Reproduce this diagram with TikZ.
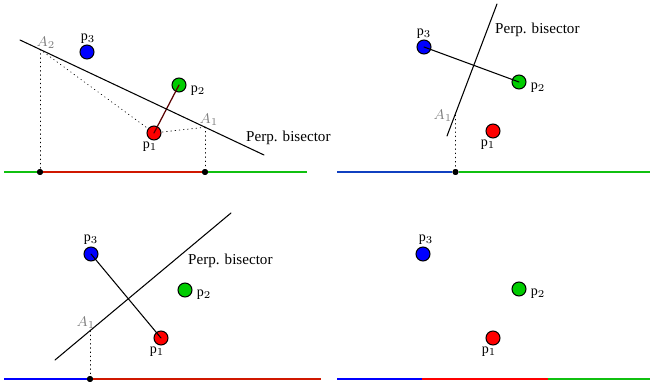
\documentclass[tikz,border=0pt]{standalone}
\usepackage{amsmath}
\usepackage{fontspec}
\setmainfont{Liberation Serif}
\usetikzlibrary{calc}
\definecolor{siteRed}{HTML}{FF0000}
\definecolor{siteGreen}{HTML}{00CC00}
\definecolor{siteBlue}{HTML}{0000FF}
\definecolor{lineRed}{HTML}{D01800}
\definecolor{lineGreen}{HTML}{10C010}
\definecolor{lineBlue}{HTML}{1040C0}

\begin{document}
\begin{tikzpicture}[
  x=0.02cm, y=-0.02cm,
  line cap=round,
  every node/.style={font=\footnotesize},
  site/.style={circle, draw=black, line width=0.6pt, minimum size=0.28cm, inner sep=0pt},
  brk/.style={circle, fill=black, inner sep=1.2pt},
  beach/.style={line width=1.2pt, line cap=butt},
  bisect/.style={black, line width=0.6pt},
  drop/.style={black, dotted, line width=0.4pt},
  tag/.style={font=\fontsize{8.6}{10}\selectfont, anchor=west}
]
  \useasboundingbox (0,0) rectangle (650,388);

  % ---- Top left: bisector of p1 and p2
  \node[site, fill=siteBlue]  (tlp3) at (87,52) {};
  \node[site, fill=siteGreen] (tlp2) at (179,85) {};
  \node[site, fill=siteRed]   (tlp1) at (154,133) {};
  \node at (88,39) {$\mathrm{p}_3$};
  \node at (198,91) {$\mathrm{p}_2$};
  \node at (150,147) {$\mathrm{p}_1$};
  \draw[red!35!black, line width=0.7pt] (tlp1.center) -- (tlp2.center);

  \coordinate (tlS) at (20,40);
  \coordinate (tlE) at (264,155);
  \coordinate (tlA2) at (40,49.4);
  \coordinate (tlA1) at (205,127.2);
  \draw[bisect] (tlS) -- (tlE);
  \node[tag] at (240,138) {Perp. bisector};
  \node[gray] at (46,43) {$A_2$};
  \node[gray] at (209,120) {$A_1$};

  \node[brk] (tlB2) at (40,172) {};
  \node[brk] (tlB1) at (205,172) {};
  \draw[drop] (tlA2) -- (tlp1);
  \draw[drop] (tlA1) -- (tlp1);
  \draw[drop] (tlA2) -- (tlB2);
  \draw[drop] (tlA1) -- (tlB1);

  \draw[beach, lineGreen] (4,172) -- (tlB2);
  \draw[beach, lineRed] (tlB2) -- (tlB1);
  \draw[beach, lineGreen] (tlB1) -- (307,172);
  \node[brk] at (tlB2) {};
  \node[brk] at (tlB1) {};

  % ---- Top right: bisector of p2 and p3
  \node[site, fill=siteBlue]  (trp3) at (424,47) {};
  \node[site, fill=siteGreen] (trp2) at (519,82) {};
  \node[site, fill=siteRed]   (trp1) at (493,131) {};
  \node at (424,34) {$\mathrm{p}_3$};
  \node at (538,88) {$\mathrm{p}_2$};
  \node at (488,145) {$\mathrm{p}_1$};
  \draw[black, line width=0.6pt] (trp3.center) -- (trp2.center);

  \coordinate (trS) at (497,4);
  \coordinate (trE) at (447,136);
  \coordinate (trA1) at (455.5,115);
  \draw[bisect] (trS) -- (trE);
  \node[tag] at (489,30) {Perp. bisector};
  \node[gray] at (443,116) {$A_1$};

  \node[brk] (trB1) at (455.5,172) {};
  \draw[drop] (trA1) -- (trB1);
  \draw[beach, lineBlue] (337,172) -- (trB1);
  \draw[beach, lineGreen] (trB1) -- (650,172);
  \node[brk] at (trB1) {};

  % ---- Bottom left: bisector of p1 and p3
  \node[site, fill=siteBlue]  (blp3) at (91,254) {};
  \node[site, fill=siteGreen] (blp2) at (185,290) {};
  \node[site, fill=siteRed]   (blp1) at (161,338) {};
  \node at (91,240) {$\mathrm{p}_3$};
  \node at (204,295) {$\mathrm{p}_2$};
  \node at (157,352) {$\mathrm{p}_1$};
  \draw[black, line width=0.6pt] (blp3.center) -- (blp1.center);

  \coordinate (blS) at (55,360);
  \coordinate (blE) at (231,213);
  \coordinate (blA1) at (90,330.8);
  \draw[bisect] (blS) -- (blE);
  \node[tag] at (182,261) {Perp. bisector};
  \node[gray] at (86,323) {$A_1$};

  \node[brk] (blB1) at (90,379) {};
  \draw[drop] (blA1) -- (blB1);
  \draw[beach, siteBlue] (4,379) -- (blB1);
  \draw[beach, lineRed] (blB1) -- (321,379);
  \node[brk] at (blB1) {};

  % ---- Bottom right: final beach line
  \node[site, fill=siteBlue]  (brp3) at (423,254) {};
  \node[site, fill=siteGreen] (brp2) at (519,289) {};
  \node[site, fill=siteRed]   (brp1) at (493,338) {};
  \node at (426,240) {$\mathrm{p}_3$};
  \node at (538,294) {$\mathrm{p}_2$};
  \node at (489,352) {$\mathrm{p}_1$};

  \coordinate (brB1) at (422,379);
  \coordinate (brB2) at (548,379);
  \draw[beach, siteBlue] (337,379) -- (brB1);
  \draw[beach, siteRed] (brB1) -- (brB2);
  \draw[beach, lineGreen] (brB2) -- (650,379);
\end{tikzpicture}
\end{document}
